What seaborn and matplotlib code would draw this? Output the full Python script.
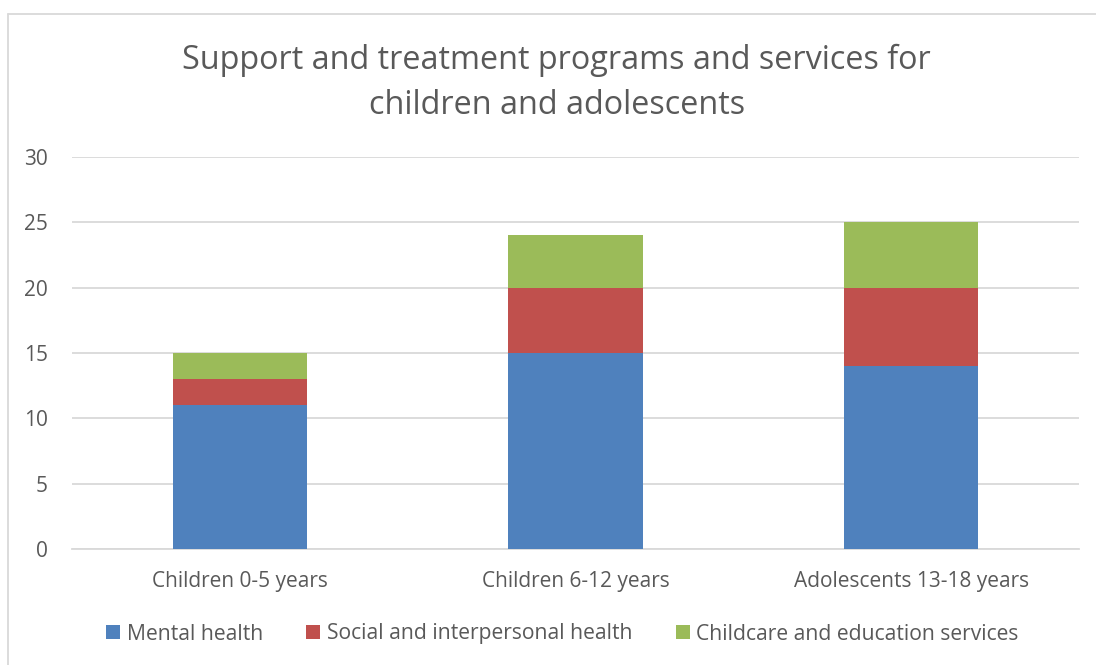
import matplotlib
matplotlib.use("Agg")
import matplotlib.pyplot as plt
from matplotlib.patches import Patch
from matplotlib.lines import Line2D
import seaborn as sns
import pandas as pd
import numpy as np

categories = ["Children 0-5 years", "Children 6-12 years", "Adolescents 13-18 years"]
mental_health = [11, 15, 14]
social_health = [2, 5, 6]
childcare_education = [2, 4, 5]
series_names = ["Mental health", "Social and interpersonal health",
                "Childcare and education services"]
colors = ["#4F81BD", "#C0504D", "#9BBB59"]
y_ticks = [0, 5, 10, 15, 20, 25, 30]

sns.set_theme(style="white")
plt.rcParams["font.family"] = ["Open Sans", "DejaVu Sans"]
text_color = "#595959"

fig = plt.figure(figsize=(10.96, 6.65), dpi=100)
ax = fig.add_axes([72 / 1096, 1 - 549 / 665, (1079 - 72) / 1096, (549 - 157) / 665])

# stacked totals, drawn back to front
layers = [mental_health, social_health, childcare_education]
cum = np.cumsum(np.array(layers), axis=0)
for i in reversed(range(3)):
    df = pd.DataFrame({"category": categories, "value": cum[i]})
    sns.barplot(data=df, x="category", y="value", color=colors[i],
                width=0.4, saturation=1, ax=ax, zorder=3, linewidth=0)

ax.set_xlim(-0.5, 2.5)
ax.set_ylim(0, 30)
ax.set_yticks(y_ticks)
ax.grid(axis="y", color="#D9D9D9", linewidth=1.3, zorder=0)
ax.set_axisbelow(True)
for s in ["top", "right", "left"]:
    ax.spines[s].set_visible(False)
ax.spines["bottom"].set_color("#D9D9D9")
ax.spines["bottom"].set_linewidth(1.3)
ax.set_xlabel("")
ax.set_ylabel("")
ax.tick_params(axis="both", length=0, labelsize=15, colors=text_color)
ax.tick_params(axis="y", pad=17.5)
ax.tick_params(axis="x", pad=15.5)

fig.text(0.508, 1 - 83 / 665, "Support and treatment programs and services for\nchildren and adolescents",
         ha="center", va="center", fontsize=23.3, color=text_color, linespacing=1.5)

handles = [Patch(facecolor=c, edgecolor="none") for c in colors]
fig.legend(handles, series_names, loc="center", bbox_to_anchor=(0.513, 1 - 634 / 665),
           ncol=3, frameon=False, fontsize=15.2, labelcolor=text_color,
           handlelength=0.68, handleheight=0.68, handletextpad=0.3, columnspacing=2.05)

# chart frame
fig.add_artist(Line2D([7.5 / 1096, 1.0], [1 - 13.5 / 665] * 2, color="#D9D9D9", linewidth=1.3))
fig.add_artist(Line2D([7.5 / 1096] * 2, [0.0, 1 - 13.5 / 665], color="#D9D9D9", linewidth=1.3))

fig.savefig("out.png", dpi=100, facecolor="white")
